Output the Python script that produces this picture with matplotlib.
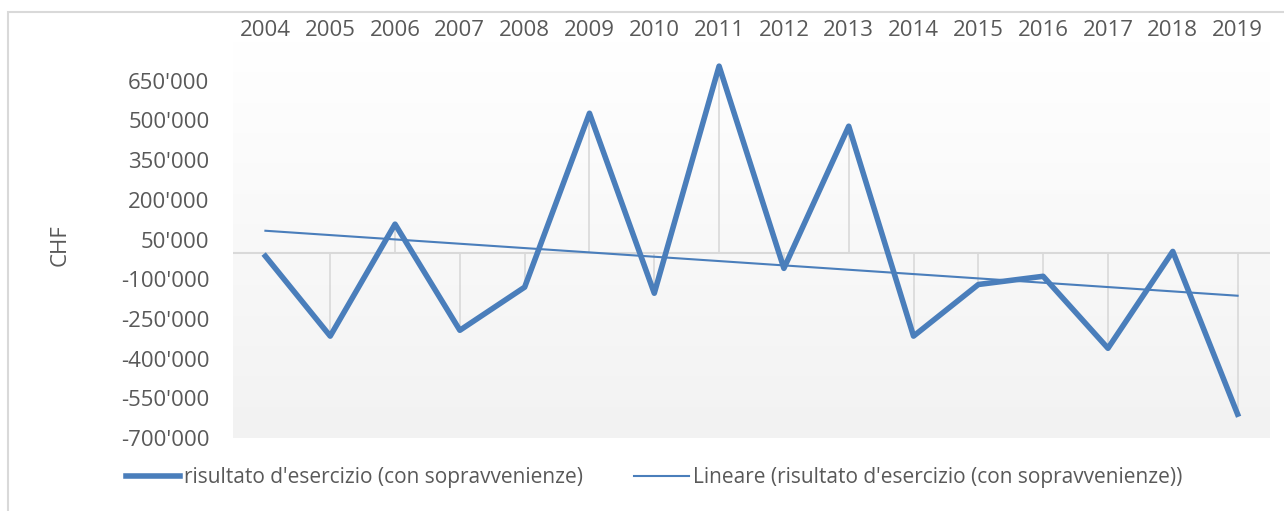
import numpy as np
import matplotlib.pyplot as plt
from matplotlib.patches import Rectangle
from matplotlib.colors import LinearSegmentedColormap
from matplotlib.ticker import FuncFormatter

plt.rcParams['font.family'] = ['Open Sans', 'DejaVu Sans']

years = ['2004', '2005', '2006', '2007', '2008', '2009', '2010', '2011',
         '2012', '2013', '2014', '2015', '2016', '2017', '2018', '2019']
risultato = [-13000, -315000, 108000, -293000, -130000, 527000, -153000, 705000,
             -59000, 478000, -315000, -120000, -89000, -361000, 5000, -610000]
y_ticks = [-700000, -550000, -400000, -250000, -100000, 50000,
           200000, 350000, 500000, 650000]

blue = '#4A7EBB'
grey_txt = '#595959'
grey_line = '#D9D9D9'

x = np.arange(len(years))
vals = np.array(risultato)
# linear trend line, as Excel does
coef = np.polyfit(x, vals, 1)
trend = np.polyval(coef, x)

fig = plt.figure(figsize=(12.84, 5.11), dpi=100)
ax = fig.add_axes([233 / 1284, 1 - 438 / 511, (1270 - 233) / 1284, (438 - 41) / 511])

# outer chart border (cropped at right/bottom)
fig.patches.append(Rectangle((8 / 1284, -0.1), 1.2, 1 - 12 / 511 + 0.1,
                             transform=fig.transFigure, fill=False,
                             edgecolor=grey_line, linewidth=1.5))

# plot area gradient
grad = np.linspace(0, 1, 256).reshape(-1, 1)
cmap = LinearSegmentedColormap.from_list('g', ['#F2F2F2', '#FFFFFF'])
ax.imshow(grad, cmap=cmap, aspect='auto', extent=[0, 1, 0, 1],
          transform=ax.transAxes, origin='lower', zorder=0)

ax.axhline(0, color=grey_line, linewidth=1.5, zorder=1)
ax.vlines(x, 0, vals, color=grey_line, linewidth=1.2, zorder=1)

ax.plot(x, vals, color=blue, linewidth=4, zorder=3,
        label="risultato d'esercizio (con sopravvenienze)")
ax.plot(x, trend, color=blue, linewidth=1.5, zorder=2,
        label="Lineare (risultato d'esercizio (con sopravvenienze))")

ax.set_xlim(-0.5, len(years) - 0.5)
ax.set_ylim(-700000, 800000)
ax.set_xticks(x)
ax.set_xticklabels(years)
ax.xaxis.tick_top()
ax.set_yticks(y_ticks)
ax.yaxis.set_major_formatter(FuncFormatter(lambda v, p: f"{v:,.0f}".replace(',', "'")))
ax.tick_params(axis='both', length=0, labelsize=16, colors=grey_txt)
ax.tick_params(axis='y', pad=17)
ax.tick_params(axis='x', pad=0)
for s in ax.spines.values():
    s.set_visible(False)

fig.text(60 / 1284, 1 - 245 / 511, 'CHF', rotation=90, ha='center', va='center',
         fontsize=16, color=grey_txt)

fig.legend(loc='center', bbox_to_anchor=(654 / 1284, 1 - 478 / 511), ncol=2,
           frameon=False, fontsize=15, labelcolor=grey_txt, handlelength=2.6,
           handletextpad=0.2, columnspacing=2.45)

fig.savefig('out.png', dpi=100)
